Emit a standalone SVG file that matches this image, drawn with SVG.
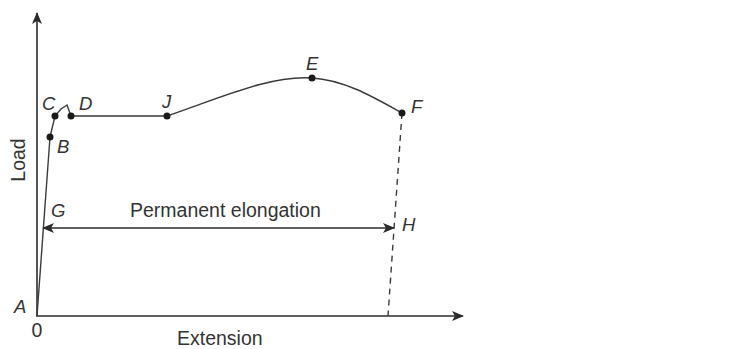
<svg xmlns="http://www.w3.org/2000/svg" width="732" height="349" viewBox="0 0 732 349">
  <defs>
    <style>
      .axis { stroke: #2b2b2b; stroke-width: 1.6; fill: none; }
      .curve { stroke: #3a3a3a; stroke-width: 1.4; fill: none; }
      .dash { stroke: #3a3a3a; stroke-width: 1.4; fill: none; stroke-dasharray: 6 5; }
      .dot { fill: #1a1a1a; }
      .lbl { font-family: "Liberation Sans", Arial, sans-serif; font-size: 18.5px; font-style: italic; fill: #333; }
      .txt { font-family: "Liberation Sans", Arial, sans-serif; font-size: 19.5px; fill: #333; }
    </style>
    <marker id="ah" viewBox="0 0 12 10" refX="11" refY="5" markerWidth="12" markerHeight="10" markerUnits="userSpaceOnUse" orient="auto-start-reverse">
      <path d="M0,0 L12,5 L0,10 L3,5 Z" fill="#2b2b2b"/>
    </marker>
  </defs>
  <rect width="732" height="349" fill="#ffffff"/>

  <g id="connectors">
    <line id="y-axis" class="axis" x1="37" y1="316" x2="37" y2="13" marker-end="url(#ah)"/>
    <line id="x-axis" class="axis" x1="36" y1="316" x2="463" y2="316" marker-end="url(#ah)"/>
    <path id="load-curve" class="curve" d="M37,316 L50,137 L55,116 L61,109 L67,105 L71,116 L167,116 C220,98 270,75 312,78 C345,80 375,98 402,113"/>
    <line id="unload" class="dash" x1="402" y1="113" x2="388" y2="316"/>
    <line id="elongation" class="axis" x1="43" y1="228" x2="394" y2="228" marker-start="url(#ah)" marker-end="url(#ah)"/>
  </g>

  <g id="node-A"><text class="lbl" x="14" y="313">A</text></g>
  <g id="node-origin"><text class="txt" x="37" y="337" text-anchor="middle">0</text></g>
  <g id="node-B"><circle class="dot" cx="50" cy="137" r="3.5"/><text class="lbl" x="57" y="153">B</text></g>
  <g id="node-C"><circle class="dot" cx="55" cy="116" r="3.5"/><text class="lbl" x="42" y="110">C</text></g>
  <g id="node-D"><circle class="dot" cx="71" cy="116" r="3.5"/><text class="lbl" x="79" y="110">D</text></g>
  <g id="node-J"><circle class="dot" cx="167" cy="116" r="3.5"/><text class="lbl" x="162" y="108">J</text></g>
  <g id="node-E"><circle class="dot" cx="312" cy="78" r="3.5"/><text class="lbl" x="306" y="70">E</text></g>
  <g id="node-F"><circle class="dot" cx="402" cy="113" r="3.5"/><text class="lbl" x="411" y="113">F</text></g>
  <g id="node-G"><text class="lbl" x="51" y="217">G</text></g>
  <g id="node-H"><text class="lbl" x="402" y="231">H</text></g>
  <g id="label-perm"><text class="txt" x="130" y="217">Permanent elongation</text></g>
  <g id="label-ext"><text class="txt" x="177" y="345">Extension</text></g>
  <g id="label-load"><text class="txt" font-size="16.5" transform="translate(25,160) rotate(-90)" text-anchor="middle">Load</text></g>
</svg>
